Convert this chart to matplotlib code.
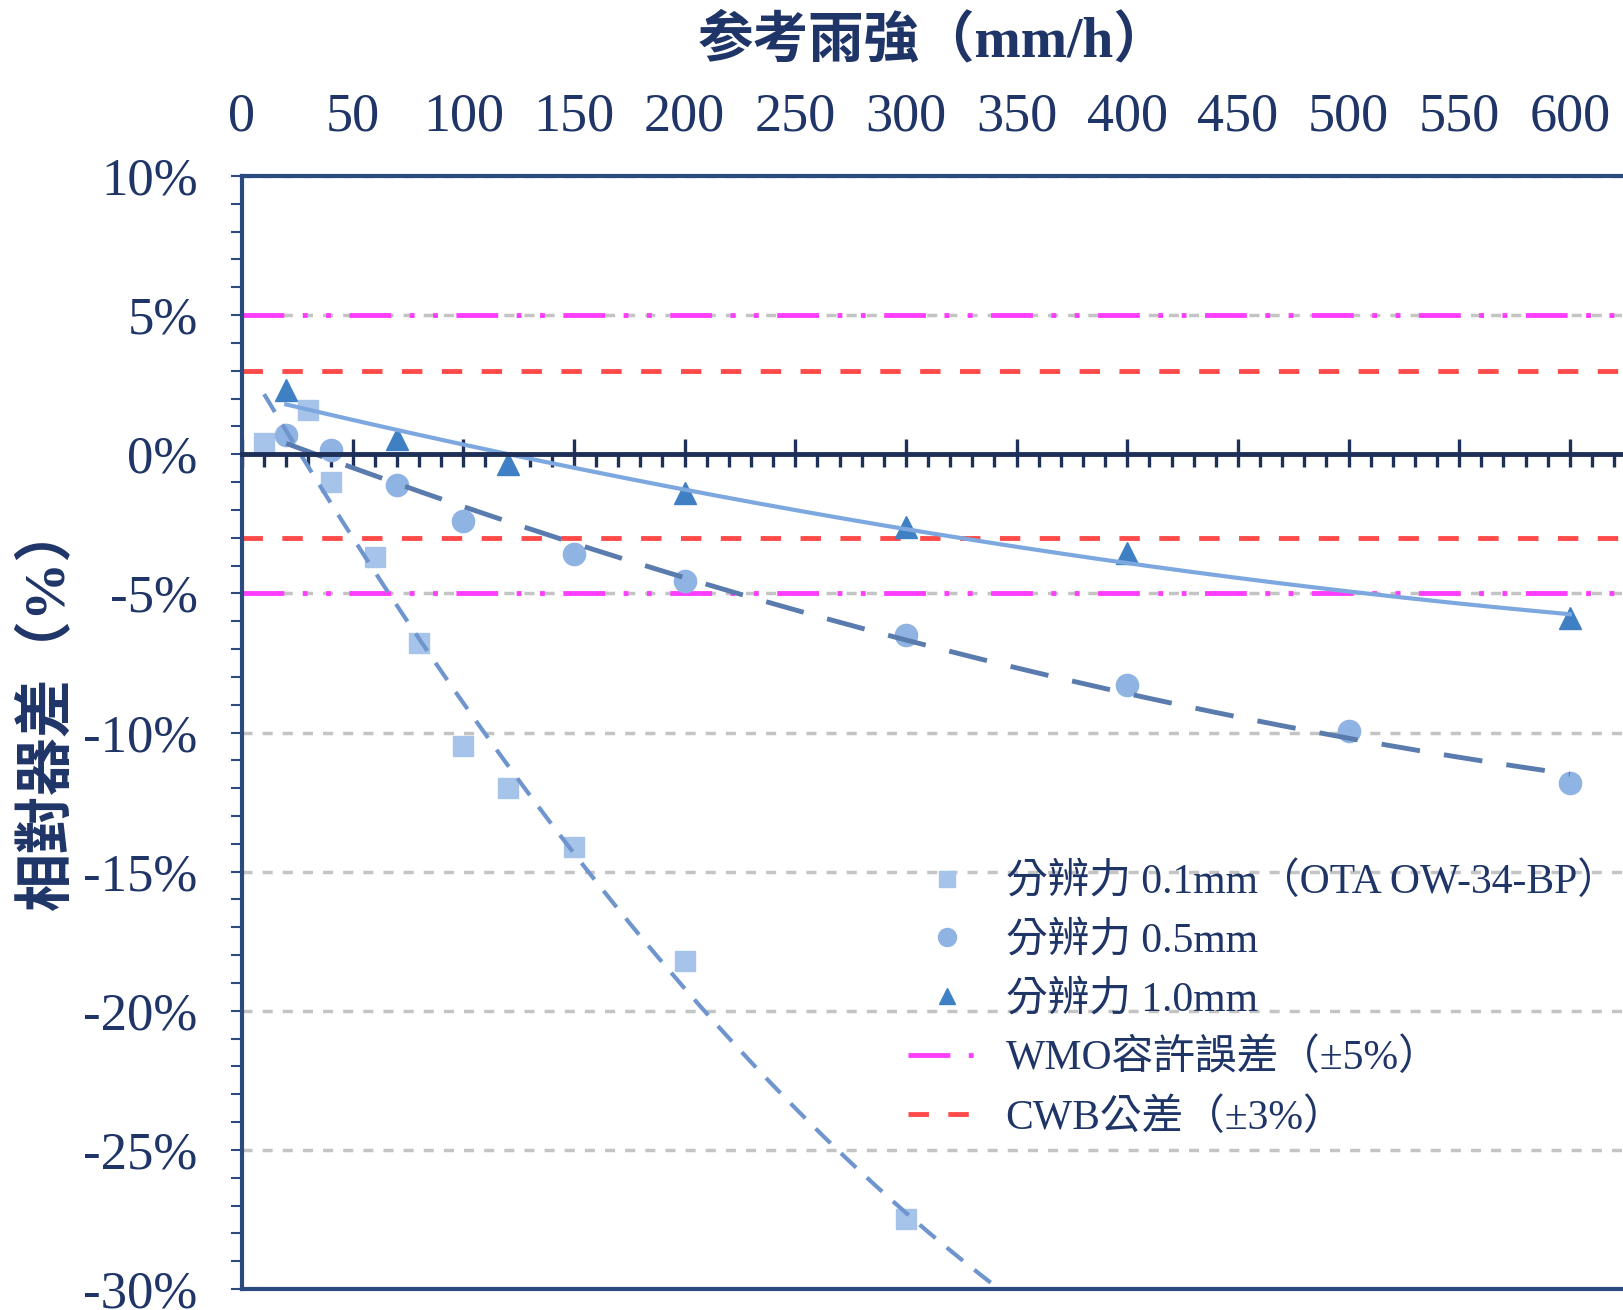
import numpy as np
import matplotlib.pyplot as plt
from matplotlib.lines import Line2D
from matplotlib.ticker import MultipleLocator, FuncFormatter

plt.rcParams['font.family'] = ['Liberation Serif', 'Noto Sans CJK TC']

# data (x: mm/h, y: %)
res01_x = [10, 30, 40, 60, 80, 100, 120, 150, 200, 300]
res01_y = [0.4, 1.6, -1.0, -3.7, -6.8, -10.5, -12.0, -14.1, -18.2, -27.5]
res05_x = [20, 40, 70, 100, 150, 200, 300, 400, 500, 600]
res05_y = [0.7, 0.15, -1.1, -2.4, -3.6, -4.55, -6.5, -8.3, -9.95, -11.8]
res10_x = [20, 70, 120, 200, 300, 400, 600]
res10_y = [2.3, 0.55, -0.35, -1.4, -2.6, -3.55, -5.9]

wmo_limits = [5, -5]
cwb_limits = [3, -3]

labels = ['分辨力 0.1mm（OTA OW-34-BP）', '分辨力 0.5mm', '分辨力 1.0mm',
          'WMO容許誤差（±5%）', 'CWB公差（±3%）']

navy = '#1F3568'
spine_c = '#2B4A80'

fig = plt.figure(figsize=(16.23, 13.10), dpi=100)
ax = fig.add_axes([242 / 1623, 21 / 1310, 1 - 242 / 1623, 1113 / 1310])
ax.set_xlim(0, 624)
ax.set_ylim(-30, 10)


def trend(x, y, x_end, deg=2):
    c = np.polyfit(x, y, deg)
    xs = np.linspace(min(x), x_end, 300)
    return xs, np.polyval(c, xs)


# reference lines
for v in wmo_limits:
    ax.axhline(v, color='#FF3DFF', lw=3.5, linestyle=(0, (8.6, 3.8, 1, 3.8, 1, 3.8)), zorder=2)
for v in cwb_limits:
    ax.axhline(v, color='#FF4A4A', lw=3.5, linestyle=(0, (4.2, 4.0)), zorder=2)

# markers
ax.plot(res01_x, res01_y, 's', ms=15, color='#A6C4EA', zorder=3)
ax.plot(res05_x, res05_y, 'o', ms=16, color='#8FB3E3', zorder=3)
ax.plot(res10_x, res10_y, '^', ms=16, color='#3F80C4', zorder=3)

# trend lines (2nd order polynomial, like the spreadsheet trendlines)
tx, ty = trend(res01_x, res01_y, 600)
ax.plot(tx, ty, color='#6F95CF', lw=3, linestyle=(0, (5, 3.5)), zorder=4)
tx, ty = trend(res05_x, res05_y, 600)
ax.plot(tx, ty, color='#5A7BAE', lw=3.5, linestyle=(0, (8, 5)), zorder=4)
tx, ty = trend(res10_x, res10_y, 600)
ax.plot(tx, ty, color='#7DA8DF', lw=3, zorder=4)

# axes styling
for s in ['left', 'top', 'bottom']:
    ax.spines[s].set_color(spine_c)
ax.spines['right'].set_visible(False)
ax.spines['left'].set_linewidth(3)
ax.spines['top'].set_linewidth(3)
ax.spines['bottom'].set_position(('data', 0))
ax.spines['bottom'].set_linewidth(3.5)
ax.spines['bottom'].set_color('#1E2F58')
ax.spines['bottom'].set_zorder(5)
ax.plot([0, 1], [0, 0], transform=ax.transAxes, color=spine_c, lw=3, clip_on=False, zorder=5)

ax.xaxis.set_major_locator(MultipleLocator(50))
ax.xaxis.set_minor_locator(MultipleLocator(10))
ax.xaxis.remove_overlapping_locs = False
ax.set_xticks(np.arange(0, 601, 50))
ax.tick_params(axis='x', which='major', direction='in', length=11, width=2.4, color='#1E2F58',
               top=False, bottom=True, labeltop=True, labelbottom=False,
               labelsize=39, labelcolor=navy, pad=24)
ax.tick_params(axis='x', which='minor', direction='out', length=9.5, width=2.4, color='#1E2F58',
               top=False, bottom=True)

ax.yaxis.set_major_locator(MultipleLocator(5))
ax.yaxis.set_minor_locator(MultipleLocator(1))
ax.yaxis.set_major_formatter(FuncFormatter(lambda v, p: f'{int(round(v))}%'))
ax.tick_params(axis='y', which='both', direction='out', length=8, width=1.5, color=spine_c,
               labelsize=38, labelcolor=navy, pad=24)

ax.set_axisbelow(True)
ax.yaxis.grid(True, which='major', color='#C4C4C4', lw=2.5, linestyle=(0, (2.9, 2.9)))

fig.text(934 / 1623, 1 - 42 / 1310, '参考雨強（mm/h）', ha='center', va='center',
         fontsize=40, fontweight='bold', color=navy)
fig.text(47 / 1623, 1 - 706 / 1310, '相對器差（%）', ha='center', va='center', rotation=90,
         fontsize=42, fontweight='bold', color=navy)

handles = [
    Line2D([], [], marker='s', ls='none', ms=12, color='#A6C4EA'),
    Line2D([], [], marker='o', ls='none', ms=13, color='#8FB3E3'),
    Line2D([], [], marker='^', ls='none', ms=12, color='#3F80C4'),
    Line2D([], [], color='#FF3DFF', lw=3.5, linestyle=(0, (8.6, 3.8, 1, 3.8, 1, 3.8))),
    Line2D([], [], color='#FF4A4A', lw=3.5, linestyle=(0, (4.2, 4.0))),
]
ax.legend(handles, labels, loc='upper left', bbox_to_anchor=(0.482, 0.383), frameon=False,
          fontsize=30, labelcolor=navy, handlelength=1.9, handletextpad=0.45,
          labelspacing=0.47, borderpad=0, borderaxespad=0)

fig.savefig('out.png', dpi=100)
